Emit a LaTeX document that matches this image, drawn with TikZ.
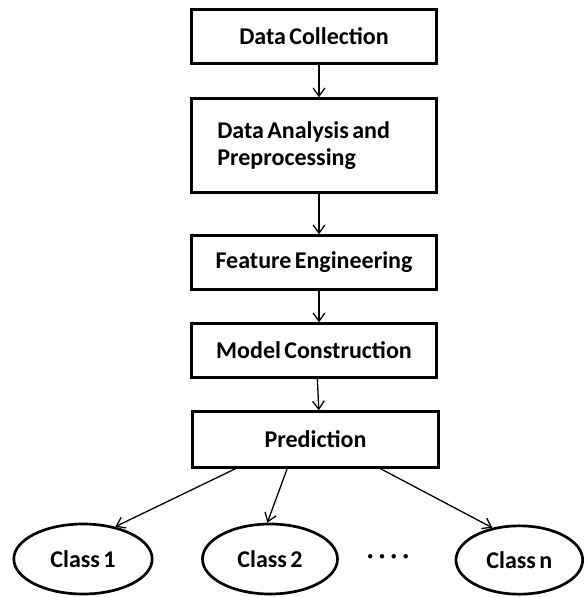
\documentclass[tikz,border=0pt]{standalone}
\usepackage{fontspec}
\setmainfont{Carlito}
\usepackage{tikz}
\usetikzlibrary{shapes.geometric, arrows.meta, positioning}
\definecolor{mydark}{RGB}{0,0,0}
\tikzset{
  block/.style={rectangle, draw=mydark, fill=white,
    minimum width=7.35cm, minimum height=1.6cm, align=center,
    font=\bfseries\fontsize{20.5}{23}\selectfont, line width=2.6pt,
    execute at begin node={\spaceskip=0.14em\relax}},
  classnode/.style={ellipse, draw=mydark, fill=white, inner sep=0pt,
    minimum width=4.1cm, minimum height=2.1cm,
    font=\bfseries\fontsize{20.5}{23}\selectfont, line width=2.3pt,
    execute at begin node={\spaceskip=0.14em\relax}},
  arrow/.style={-{Straight Barb[length=7pt, width=10pt]}, line width=1.1pt, color=mydark}
}
\begin{document}
\begin{tikzpicture}
  \useasboundingbox (0,0) rectangle (17.52,-17.91);

  % Pipeline stages
  \node[block] (collect) at (9.42,-1.095) {Data Collection};
  \node[block, minimum height=2.8cm, text width=5.8cm, align=left] (analysis) at (9.42,-4.365)
    {Data Analysis and\\Preprocessing};
  \node[block] (feature) at (9.42,-7.875) {Feature Engineering};
  \node[block] (model) at (9.42,-10.515) {Model Construction};
  \node[block, minimum width=7.4cm, minimum height=1.66cm] (predict) at (9.465,-13.185) {Prediction};

  % Output classes
  \node[classnode, minimum width=4.15cm] (class1) at (2.49,-16.77) {Class 1};
  \node[classnode, minimum width=4.05cm] (class2) at (8.1,-16.77) {Class 2};
  \node[font=\bfseries\fontsize{20.5}{23}\selectfont] (dots) at (11.64,-16.77) {· · · ·};
  \node[classnode, minimum width=3.8cm, minimum height=2.05cm] (classn) at (15.58,-16.8) {Class n};

  % Arrows
  \draw[arrow] ([xshift=0.15cm]collect.south) -- ([xshift=0.15cm]analysis.north);
  \draw[arrow] ([xshift=0.15cm]analysis.south) -- ([xshift=0.15cm]feature.north);
  \draw[arrow] ([xshift=0.15cm]feature.south) -- ([xshift=0.15cm]model.north);
  \draw[arrow] ([xshift=0.1cm]model.south) -- ([xshift=0.1cm]predict.north);
  \draw[arrow] ([xshift=-2.4cm]predict.south) -- (class1.45);
  \draw[arrow] ([xshift=-0.85cm]predict.south) -- ([xshift=-0.08cm]class2.north);
  \draw[arrow] ([xshift=1.95cm]predict.south) -- (classn.130);
\end{tikzpicture}
\end{document}
